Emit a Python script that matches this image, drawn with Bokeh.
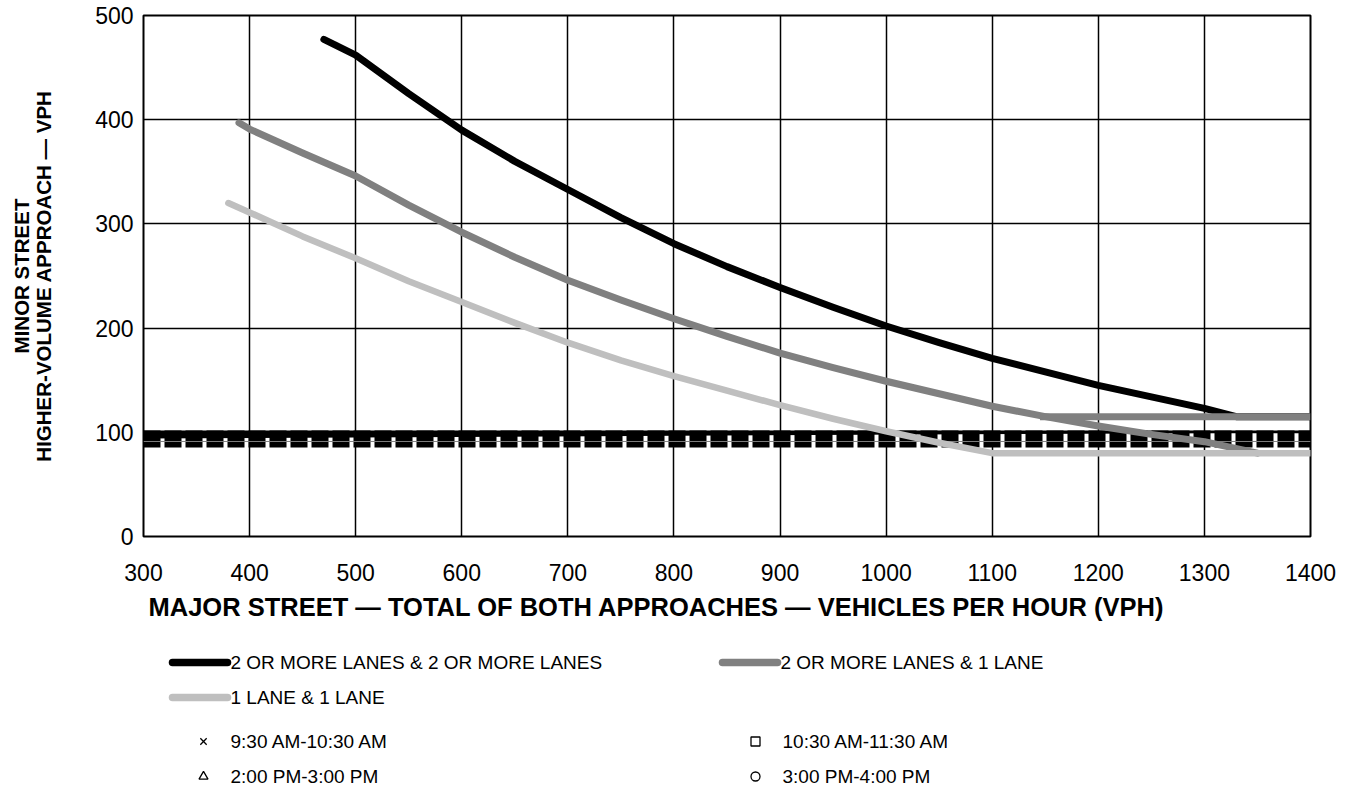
from bokeh.plotting import figure
from bokeh.layouts import column
from bokeh.models import Range1d, FixedTicker, Title
from bokeh.core.properties import value
from bokeh.embed import file_html
from bokeh.resources import INLINE

FONT = "Liberation Sans"
TICK_FS = "23px"
TITLE_FS = "25.5px"
YTITLE_FS = "20.5px"
LEG_FS = "19px"

# ---------------- data ----------------
x_ticks = [300, 400, 500, 600, 700, 800, 900, 1000, 1100, 1200, 1300, 1400]
y_ticks = [0, 100, 200, 300, 400, 500]

# 2 OR MORE LANES & 2 OR MORE LANES
major_2x2 = [470, 500, 550, 600, 650, 700, 750, 800, 850, 900, 950, 1000, 1050, 1100, 1150, 1200, 1250, 1300, 1330, 1400]
minor_2x2 = [477, 462, 425, 390, 360, 333, 306, 281, 259, 239, 220, 202, 186, 171, 158, 145, 134, 123, 115, 115]

# 2 OR MORE LANES & 1 LANE (curve)
major_2x1 = [390, 400, 450, 500, 550, 600, 650, 700, 750, 800, 850, 900, 950, 1000, 1050, 1100, 1150, 1200, 1250, 1300, 1350]
minor_2x1 = [397, 391, 368, 346, 318, 292, 268, 246, 227, 209, 192, 176, 162, 149, 137, 125, 115, 106, 98, 91, 80]
# 2 OR MORE LANES lower threshold
major_2x1_floor = [1145, 1400]
minor_2x1_floor = [115, 115]

# 1 LANE & 1 LANE
major_1x1 = [380, 400, 450, 500, 550, 600, 650, 700, 750, 800, 850, 900, 950, 1000, 1050, 1100, 1400]
minor_1x1 = [320, 311, 288, 267, 245, 225, 205, 186, 169, 154, 140, 126, 113, 101, 90, 80, 80]

# observed hourly volumes band (dense markers around 86-102 vph)
band_major = [300, 1400]
band_center = [93.55, 93.55]
band_mid = [91.2, 91.2]
band_top_x = [300, 1400, 1400, 300]
band_top_y = [101.7, 101.7, 99.8, 94.0]

line_labels = ["2 OR MORE LANES & 2 OR MORE LANES", "2 OR MORE LANES & 1 LANE", "1 LANE & 1 LANE"]
line_colors = ["#000000", "#808080", "#bfbfbf"]
period_labels = ["9:30 AM-10:30 AM", "10:30 AM-11:30 AM", "2:00 PM-3:00 PM", "3:00 PM-4:00 PM"]
period_markers = ["x", "square", "triangle", "circle"]

W = 1340
LEFT = 143
RIGHT = W - 1310

# ---------------- main chart ----------------
p = figure(width=W, height=632, x_range=Range1d(300, 1400), y_range=Range1d(0, 500),
           output_backend="svg", toolbar_location=None,
           min_border_left=LEFT, min_border_right=RIGHT, min_border_top=15, min_border_bottom=96)

p.xaxis.ticker = FixedTicker(ticks=x_ticks)
p.yaxis.ticker = FixedTicker(ticks=y_ticks)
for ax in (p.xaxis[0], p.yaxis[0]):
    ax.axis_line_color = None
    ax.major_tick_line_color = None
    ax.minor_tick_line_color = None
    ax.major_tick_out = 0
    ax.major_tick_in = 0
    ax.major_label_text_font = FONT
    ax.major_label_text_font_size = TICK_FS
    ax.major_label_text_color = "#000000"
p.xaxis.major_label_standoff = 27
p.yaxis.major_label_standoff = 10

p.yaxis.axis_label = "MINOR STREET\nHIGHER-VOLUME APPROACH \u2014 VPH"
p.yaxis.axis_label_text_font = FONT
p.yaxis.axis_label_text_font_size = YTITLE_FS
p.yaxis.axis_label_text_font_style = "bold"
p.yaxis.axis_label_text_color = "#000000"
p.yaxis.axis_label_text_line_height = 0.98
p.yaxis.axis_label_standoff = 37

p.grid.grid_line_color = "#000000"
p.grid.grid_line_width = 1.5
p.outline_line_color = "#000000"
p.outline_line_width = 2

# band
p.line(band_major, band_center, line_color="#000000", line_width=17, line_dash="17 4")
p.patch(band_top_x, band_top_y, fill_color="#000000", line_color=None)
p.line(band_major, band_mid, line_color="#7f7f7f", line_width=1)

p.line(major_2x2, minor_2x2, line_color=line_colors[0], line_width=7, line_cap="round", line_join="round")
p.line(major_2x1, minor_2x1, line_color=line_colors[1], line_width=7, line_cap="round", line_join="round")
p.line(major_2x1_floor, minor_2x1_floor, line_color=line_colors[1], line_width=7, line_cap="butt")
p.line(major_1x1, minor_1x1, line_color=line_colors[2], line_width=6.5, line_cap="round", line_join="round")

t_x = Title(text="MAJOR STREET \u2014 TOTAL OF BOTH APPROACHES \u2014 VEHICLES PER HOUR (VPH)",
            align="left", offset=5, text_font=FONT, text_font_size=TITLE_FS, text_font_style="bold",
            text_color="#000000", standoff=14)
p.add_layout(t_x, "below")

# ---------------- legend ----------------
q = figure(width=W, height=154, x_range=Range1d(LEFT, 1310), y_range=Range1d(786, 632),
           output_backend="svg", toolbar_location=None,
           min_border_left=LEFT, min_border_right=RIGHT, min_border_top=0, min_border_bottom=0)
q.axis.visible = False
q.grid.visible = False
q.outline_line_color = None

line_pos = [(172, 662), (722, 662), (172, 697)]
for (lx, ly), lab, col in zip(line_pos, line_labels, line_colors):
    q.segment(x0=[lx], y0=[ly], x1=[lx + 55], y1=[ly], line_color=col, line_width=7.5, line_cap="round")
    q.text(x=[lx + 58], y=[ly], text=[lab], text_baseline="middle", text_align="left",
           text_font=value(FONT), text_font_size=LEG_FS, text_color="#000000")

mark_pos = [(203, 741), (755, 741), (203, 776), (755, 776)]
for (mx, my), lab, mk in zip(mark_pos, period_labels, period_markers):
    q.scatter(x=[mx], y=[my], marker=mk, size=9, line_color="#000000", fill_color=None, line_width=1.3)
    q.text(x=[mx + 27], y=[my], text=[lab], text_baseline="middle", text_align="left",
           text_font=value(FONT), text_font_size=LEG_FS, text_color="#000000")

layout = column(p, q, spacing=0)
open("out.html", "w").write(file_html(layout, INLINE))
